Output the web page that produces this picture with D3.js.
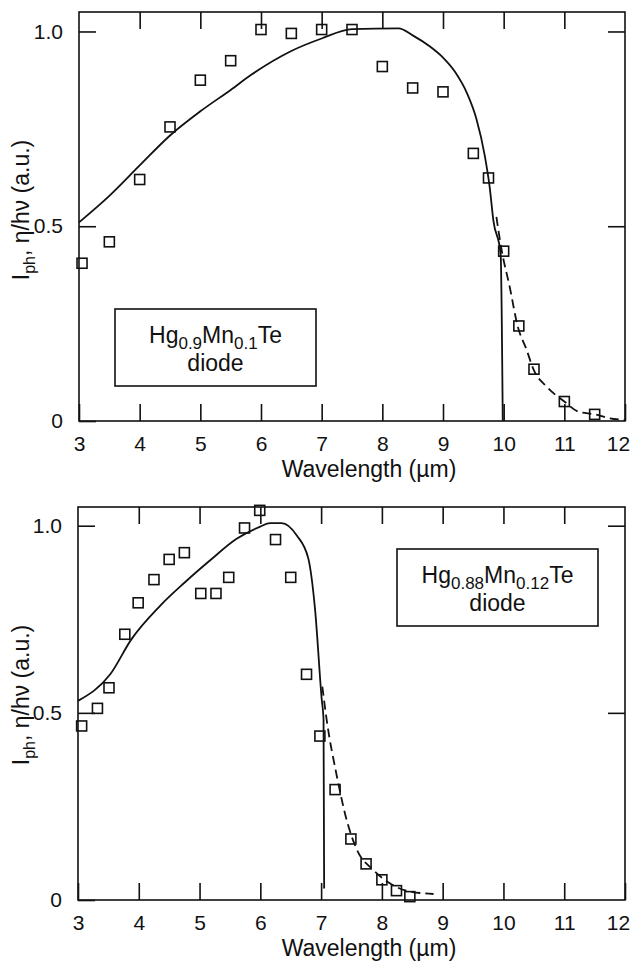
<!DOCTYPE html>
<html><head><meta charset="utf-8">
<script src="https://cdn.jsdelivr.net/npm/d3@7"></script>
<style>
html,body{margin:0;padding:0;background:#fff;}
svg{display:block;}
text{font-family:"Liberation Sans",Arial,Helvetica,sans-serif;fill:#111;}
</style></head>
<body>
<script>
// ---------- data ----------
const xTicks = [3,4,5,6,7,8,9,10,11,12];
const yTicks = [0,0.5,1.0];
const xLabel = "Wavelength (µm)";

// top panel: Hg0.9Mn0.1Te
const topSqX = [3.05,3.5,4,4.5,5,5.5,6,6.5,7,7.5,8,8.5,9,9.5,9.75,10,10.25,10.5,11,11.5];
const topSqY = [0.405,0.46,0.62,0.755,0.875,0.925,1.005,0.995,1.005,1.005,0.91,0.855,0.845,0.687,0.624,0.436,0.244,0.133,0.05,0.017];
const topSolidX = [3.0,3.5,4.0,4.5,5.0,5.5,5.85,6.5,7.0,7.5,8.27,8.5,8.78,9.0,9.2,9.4,9.55,9.69,9.77,9.83,9.95,9.985];
const topSolidY = [0.51,0.578,0.656,0.733,0.795,0.85,0.89,0.95,0.982,1.006,1.008,0.99,0.962,0.933,0.896,0.84,0.776,0.68,0.6,0.515,0.43,0.0];
const topDashX = [9.88,9.97,10.1,10.23,10.38,10.49,10.71,11.0,11.23,11.5,11.75,12.0];
const topDashY = [0.524,0.436,0.344,0.244,0.182,0.133,0.088,0.05,0.024,0.017,0.007,0.003];

// bottom panel: Hg0.88Mn0.12Te
const botSqX = [3.06,3.32,3.51,3.77,3.99,4.25,4.5,4.75,5.02,5.27,5.48,5.74,5.99,6.25,6.5,6.76,6.98,7.23,7.49,7.74,8.0,8.24,8.46];
const botSqY = [0.465,0.512,0.567,0.71,0.794,0.856,0.91,0.928,0.819,0.819,0.862,0.994,1.041,0.963,0.862,0.603,0.438,0.295,0.163,0.0965,0.054,0.025,0.009];
const botSolidX = [3.0,3.53,3.88,4.35,4.76,5.17,5.61,5.99,6.16,6.35,6.6,6.79,6.9,7.01,7.04,7.05];
const botSolidY = [0.532,0.603,0.697,0.786,0.849,0.907,0.965,0.997,1.007,1.007,0.974,0.912,0.777,0.536,0.483,0.031];
const botDashX = [7.02,7.09,7.26,7.42,7.59,7.86,8.13,8.4,8.85];
const botDashY = [0.57,0.483,0.33,0.214,0.134,0.08,0.045,0.025,0.016];

// ---------- layout ----------
const W = 631, H = 963;
const svg = d3.select("body").append("svg").attr("width", W).attr("height", H);

const zip = (xs, ys) => xs.map((x, i) => [x, ys[i]]);

function panel(cfg) {
  const x = d3.scaleLinear().domain([3, 12]).range([cfg.x0, cfg.x1]);
  const y = d3.scaleLinear().domain([0, 1.05]).range([cfg.y1, cfg.y0]);
  const g = svg.append("g");
  const tick = 17;
  const yFmt = d => d === 0 ? "0" : d3.format(".1f")(d);

  // frame
  g.append("rect").attr("x", cfg.x0).attr("y", cfg.y0)
    .attr("width", cfg.x1 - cfg.x0).attr("height", cfg.y1 - cfg.y0)
    .attr("fill", "none").attr("stroke", "#111").attr("stroke-width", 1.6);

  const styleAxis = sel => {
    sel.select(".domain").remove();
    sel.selectAll(".tick line").attr("stroke", "#111").attr("stroke-width", 1.6);
    sel.selectAll("text").attr("font-size", 21).attr("fill", "#111")
      .attr("font-family", '"Liberation Sans",Arial,sans-serif');
  };

  const bx = g.append("g").attr("transform", `translate(0,${cfg.y1})`)
    .call(d3.axisBottom(x).tickValues(xTicks).tickFormat(d3.format("d"))
      .tickSizeInner(-tick).tickSizeOuter(0).tickPadding(15))
    .call(styleAxis);
  // keep the last label inside the page
  bx.selectAll(".tick").filter(d => d === 12).select("text").attr("dx", -7);

  g.append("g").attr("transform", `translate(0,${cfg.y0})`)
    .call(d3.axisTop(x).tickValues(xTicks.slice(1, -1)).tickFormat("")
      .tickSizeInner(-tick).tickSizeOuter(0))
    .call(styleAxis);
  g.append("g").attr("transform", `translate(${cfg.x0},0)`)
    .call(d3.axisLeft(y).tickValues(yTicks).tickFormat(yFmt)
      .tickSizeInner(-tick).tickSizeOuter(0).tickPadding(16))
    .call(styleAxis);
  g.append("g").attr("transform", `translate(${cfg.x1},0)`)
    .call(d3.axisRight(y).tickValues(yTicks.slice(1)).tickFormat("")
      .tickSizeInner(-tick).tickSizeOuter(0))
    .call(styleAxis);

  // axis titles
  g.append("text").attr("x", 369).attr("y", cfg.y1 + 56)
    .attr("text-anchor", "middle").attr("font-size", 23).text(xLabel);

  const yl = g.append("text")
    .attr("transform", `translate(29,${cfg.ylabC}) rotate(-90)`)
    .attr("text-anchor", "middle").attr("font-size", 23);
  yl.append("tspan").text("I");
  yl.append("tspan").attr("font-size", 16).attr("dy", 6).text("ph");
  yl.append("tspan").attr("dy", -6).text(", η/hν (a.u.)");

  // lines
  const line = d3.line().x(d => x(d[0])).y(d => y(d[1])).curve(d3.curveMonotoneX);
  g.append("path").datum(zip(cfg.solidX, cfg.solidY)).attr("d", line)
    .attr("fill", "none").attr("stroke", "#111").attr("stroke-width", 1.8);
  g.append("path").datum(zip(cfg.dashX, cfg.dashY)).attr("d", line)
    .attr("fill", "none").attr("stroke", "#111").attr("stroke-width", 1.8)
    .attr("stroke-dasharray", "9,5");

  // squares
  const s = 10;
  g.append("g").selectAll("rect").data(zip(cfg.sqX, cfg.sqY)).join("rect")
    .attr("x", d => x(d[0]) - s / 2).attr("y", d => y(d[1]) - s / 2)
    .attr("width", s).attr("height", s)
    .attr("fill", "none").attr("stroke", "#111").attr("stroke-width", 1.6);

  // label box
  const b = cfg.box;
  g.append("rect").attr("x", b.x).attr("y", b.y).attr("width", b.w).attr("height", b.h)
    .attr("fill", "#fff").attr("stroke", "#111").attr("stroke-width", 1.6);
  const t = g.append("text").attr("x", b.x + b.w / 2).attr("y", b.y + 34)
    .attr("text-anchor", "middle").attr("font-size", 23);
  t.append("tspan").text("Hg");
  t.append("tspan").attr("font-size", 17).attr("dy", 6).text(cfg.sub1);
  t.append("tspan").attr("dy", -6).text("Mn");
  t.append("tspan").attr("font-size", 17).attr("dy", 6).text(cfg.sub2);
  t.append("tspan").attr("dy", -6).text("Te");
  g.append("text").attr("x", b.x + b.w / 2).attr("y", b.y + 62)
    .attr("text-anchor", "middle").attr("font-size", 23).text("diode");
}

panel({x0: 79, x1: 625, y0: 12, y1: 421, ylabC: 210,
  sqX: topSqX, sqY: topSqY, solidX: topSolidX, solidY: topSolidY, dashX: topDashX, dashY: topDashY,
  box: {x: 115, y: 309, w: 201, h: 77}, sub1: "0.9", sub2: "0.1"});
panel({x0: 78, x1: 625, y0: 507, y1: 900, ylabC: 695,
  sqX: botSqX, sqY: botSqY, solidX: botSolidX, solidY: botSolidY, dashX: botDashX, dashY: botDashY,
  box: {x: 397, y: 549, w: 201, h: 77}, sub1: "0.88", sub2: "0.12"});
</script>
</body></html>
